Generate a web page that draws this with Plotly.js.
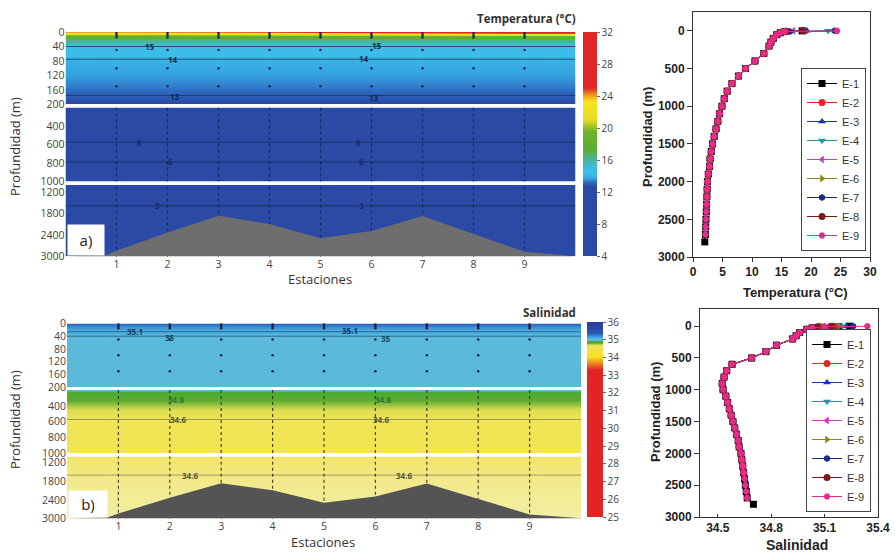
<!DOCTYPE html>
<html><head><meta charset="utf-8">
<script src="https://cdn.plot.ly/plotly-3.0.1.min.js"></script>
<style>html,body{margin:0;padding:0;background:#fff}#chart{width:895px;height:554px}</style>
</head><body><div id="chart"></div>
<script>
// ---------------- DATA ----------------
const stations = [0,1,2,3,4,5,6,7,8,9,10];
const stationTicks = [1,2,3,4,5,6,7,8,9];
const stationTickText = ['1','2','3','4','5','6','7','8','9'];

// section: surface rows (per station) + deeper rows (uniform along section)
const surfaceDepths = [0, 10];
const tempSurface0m  = [24.0,24.0,24.2,24.4,24.6,25.0,25.4,25.8,26.2,26.6,26.6];
const tempSurface10m = [18.5,18.5,18.5,18.8,18.8,19.0,19.0,19.2,19.2,19.5,19.5];
const salSurface0m   = [35.32,35.32,35.33,35.33,35.34,35.34,35.35,35.35,35.35,35.34,35.34];
const salSurface10m  = [35.2,35.2,35.2,35.2,35.2,35.21,35.21,35.21,35.21,35.2,35.2];
const sectionDepths = [20,30,40,60,75,100,125,150,175,200,250,300,400,500,600,700,800,900,1000,1200,1400,1600,1800,2000,2400,2800,3000];
const tempSection = [16.5,15.6,15.0,14.4,14.0,13.8,13.6,13.35,13.0,12.6,12.2,11.8,10.5,8.9,7.7,6.8,5.9,5.3,4.9,4.2,3.5,2.95,2.8,2.6,2.3,2.1,2.0];
const salSection  = [35.13,35.08,35.0,34.985,34.98,34.975,34.97,34.965,34.96,34.955,34.89,34.82,34.74,34.65,34.58,34.56,34.55,34.54,34.54,34.56,34.58,34.6,34.62,34.63,34.65,34.67,34.68];

// contour levels drawn in each panel and their labels
const tempLevelsUpper = [13, 14, 15], tempLevelsMid = [6, 8], tempLevelsDeep = [3];
const salLevelsUpper = [35, 35.1], salLevelsMid = [34.6, 34.8], salLevelsDeep = [34.6];

// bathymetry along the section
const bathyX     = [0, 0.8, 1, 2, 3, 4, 5, 6, 7, 8, 9, 10];
const bathyDepth = [3000, 2960, 2840, 2330, 1860, 2090, 2490, 2290, 1870, 2380, 2870, 2990];
const sampleDepthsUpper = [0, 5, 10, 15, 50, 100, 150];

// vertical profiles per station
const profileNames = ['E-1','E-2','E-3','E-4','E-5','E-6','E-7','E-8','E-9'];
const profileDepths = [0,10,25,50,100,150,200,300,400,500,600,700,800,900,1000,1100,1200,1300,1400,1500,1600,1700,1800,1900,2000,2100,2200,2300,2400,2500,2600,2700,2800];
const profileMaxDepth = [2800,2300,1800,2000,2400,2200,1800,2300,2700];
const profileTempSurface = [[18.5,15.5],[19.0,15.8],[19.3,16.0],[22.9,16.5],[17.0,15.4],[16.0,15.2],[24.0,16.4],[18.6,15.8],[24.4,15.6]];
const profileTempDeep = [14.8,14.2,13.6,13.2,12.9,12.0,10.5,8.9,7.7,6.6,5.8,5.3,4.9,4.5,4.2,3.9,3.6,3.3,3.1,2.9,2.8,2.6,2.45,2.4,2.35,2.3,2.25,2.2,2.15,2.1,2.0];
const profileSalSurface = [[35.24,35.18],[35.15,35.08],[35.22,35.1],[35.2,35.08],[35.12,35.06],[35.18,35.08],[35.26,35.1],[35.14,35.06],[35.34,35.1]];
const profileSalDeep = [35.03,35.0,34.96,34.94,34.92,34.83,34.77,34.69,34.58,34.55,34.535,34.525,34.53,34.545,34.555,34.565,34.575,34.585,34.595,34.605,34.615,34.62,34.63,34.635,34.64,34.645,34.65,34.655,34.66,34.665,34.7];

// ---------------- STYLE ----------------
const profileColors  = ['#000000','#ee2222','#2233aa','#1a9a9a','#c040c0','#8a8a1a','#1e2a88','#7a1a1a','#e82a8a'];
const profileSymbols = ['square','circle','triangle-up','triangle-down','triangle-left','triangle-right','hexagon','circle','hexagon2'];

const tMin = 4, tMax = 32, sMin = 25, sMax = 36;
const tn = v => (v - tMin) / (tMax - tMin);
const sn = v => (v - sMin) / (sMax - sMin);
const tempScale = [
  [0,'#2b4aa6'],[tn(12.7),'#2b4aa6'],[tn(13.2),'#2f6cc4'],[tn(13.7),'#36a6e0'],[tn(14.2),'#3bbbea'],
  [tn(15.0),'#3dbde4'],[tn(15.6),'#46b6b8'],[tn(16.4),'#4fb280'],[tn(17.2),'#5aae32'],[tn(19.5),'#6ab22c'],
  [tn(21.0),'#e4dc22'],[tn(23.3),'#f6e41e'],[tn(24.2),'#f08c22'],[tn(25.0),'#e22626'],[1,'#e22626']
];
const salScale = [
  [0,'#e22424'],[sn(33.3),'#e22424'],[sn(33.7),'#f08c22'],[sn(34.0),'#f6e01e'],[sn(34.6),'#f1e458'],
  [sn(34.7),'#dcdc50'],[sn(34.8),'#5aae30'],[sn(34.92),'#4aab2e'],[sn(34.95),'#5ab8d8'],[sn(35.02),'#5cbbe0'],
  [sn(35.1),'#4cb0e2'],[sn(35.2),'#3a8ed4'],[sn(35.35),'#2c5ab4'],[sn(35.6),'#2a4aa8'],[1,'#283c9a']
];
const deepSalScale = [[0,'#f1e35e'],[0.4,'#f2e77a'],[0.75,'#f3ec98'],[1,'#eef0b0']];

const px = v => v / 895;
const py = v => 1 - v / 554;

// ---------------- BUILD ----------------
const allDepths = surfaceDepths.concat(sectionDepths);
const tempZ = [tempSurface0m, tempSurface10m].concat(tempSection.map(v => stations.map(() => v)));
const salZ  = [salSurface0m, salSurface10m].concat(salSection.map(v => stations.map(() => v)));

const traces = [];
function heat(z, xa, ya, scale, zmin, zmax, cb) {
  const t = {type:'heatmap', x:stations, y:allDepths, z:z, xaxis:xa, yaxis:ya, colorscale:scale,
    zmin:zmin, zmax:zmax, zsmooth:'best', hoverinfo:'skip', showscale:!!cb, showlegend:false};
  if (cb) t.colorbar = cb;
  traces.push(t);
}
function cont(z, xa, ya, levels, lc) {
  const lo = Math.min(...levels), hi = Math.max(...levels);
  const size = levels.length > 1 ? (hi - lo) / (levels.length - 1) : 1;
  traces.push({type:'contour', x:stations, y:allDepths, z:z, xaxis:xa, yaxis:ya, showscale:false,
    hoverinfo:'skip', showlegend:false,
    contours:{coloring:'none', start:lo, end:hi + size * 0.4, size:size, showlabels:false},
    line:{color:lc, width:0.8, smoothing:1}});
}
const cbBase = {xanchor:'left', yanchor:'middle', xpad:0, ypad:0, outlinewidth:0, ticks:'outside',
  ticklen:3, tickcolor:'#666', tickfont:{family:'Open Sans', size:10, color:'#444'}, lenmode:'fraction'};

// temperature section
heat(tempZ,'x','y',tempScale,tMin,tMax, Object.assign({}, cbBase, {x:px(583), y:py(144), len:224/554, thickness:14, tickvals:[4,8,12,16,20,24,28,32]}));
heat(tempZ,'x','y2',tempScale,tMin,tMax,null);
heat(tempZ,'x','y3',tempScale,tMin,tMax,null);
cont(tempZ,'x','y',tempLevelsUpper,'#17365a');
cont(tempZ,'x','y2',tempLevelsMid,'#17305a');
cont(tempZ,'x','y3',tempLevelsDeep,'#17305a');

// salinity section
heat(salZ,'x2','y4',salScale,sMin,sMax, Object.assign({}, cbBase, {x:px(587), y:py(419.5), len:195/554, thickness:16, tickvals:[25,26,27,28,29,30,31,32,33,34,35,36]}));
heat(salZ,'x2','y5',salScale,sMin,sMax,null);
heat(salZ,'x2','y6',deepSalScale,34.5,34.7,null);
cont(salZ,'x2','y4',salLevelsUpper,'#1d5a70');
cont(salZ,'x2','y5',salLevelsMid,'#7a8a40');
cont(salZ,'x2','y6',salLevelsDeep,'#8a8a60');

// station sampling marks
function stationBottom(s) { return bathyDepth[bathyX.indexOf(s)]; }
function stationMarks(xa, ya, color) {
  const xs = [], ys = [];
  stationTicks.forEach(s => sampleDepthsUpper.forEach(d => { xs.push(s); ys.push(d); }));
  traces.push({type:'scatter', mode:'markers', x:xs, y:ys, xaxis:xa, yaxis:ya, hoverinfo:'skip', showlegend:false,
    marker:{size:2.5, color:color}, cliponaxis:true});
}
function stationLines(xa, yas, color) {
  const xs = [], ys = [];
  stationTicks.forEach(s => { xs.push(s, s, null); ys.push(200, stationBottom(s), null); });
  yas.forEach(ya => traces.push({type:'scatter', mode:'lines', x:xs, y:ys, xaxis:xa, yaxis:ya, hoverinfo:'skip',
    showlegend:false, line:{color:color, width:1.2, dash:'dot'}}));
}
stationMarks('x','y','#1a2a50');
stationLines('x',['y2','y3'],'rgba(20,30,70,0.75)');
stationMarks('x2','y4','#223');
stationLines('x2',['y5','y6'],'rgba(40,40,30,0.85)');

// bathymetry
function bathy(xa, ya, color) {
  traces.push({type:'scatter', mode:'lines', x:bathyX.concat([10,0]), y:bathyDepth.concat([3000,3000]),
    xaxis:xa, yaxis:ya, fill:'toself', fillcolor:color, line:{width:0, color:color}, hoverinfo:'skip', showlegend:false});
}
bathy('x','y3','#6e6e6e');
bathy('x2','y6','#545454');

// profiles
function profile(i, surface, deep, xa, ya, legend) {
  const vals = surface[i].concat(deep);
  const xs = [], ys = [];
  profileDepths.forEach((d, k) => { if (d <= profileMaxDepth[i]) { xs.push(vals[k]); ys.push(d); } });
  traces.push({type:'scatter', mode:'lines+markers', name:profileNames[i], x:xs, y:ys, xaxis:xa, yaxis:ya,
    legend:legend, line:{color:profileColors[i], width:1},
    marker:{symbol:profileSymbols[i], size:7, color:profileColors[i], line:{width:0}}});
}
for (let i = 0; i < 9; i++) profile(i, profileTempSurface, profileTempDeep, 'x3', 'y7', 'legend');
for (let i = 0; i < 9; i++) profile(i, profileSalSurface, profileSalDeep, 'x4', 'y8', 'legend2');

// ---------------- LAYOUT ----------------
const secTick = {family:'Open Sans', size:10.5, color:'#444'};
const secY = {tickfont:secTick, showgrid:false, zeroline:false, ticks:'', showline:false, fixedrange:true};
const secX = {range:[0,10], tickvals:stationTicks, ticktext:stationTickText, ticks:'inside', ticklen:2,
  tickcolor:'#777', tickfont:secTick, showgrid:false, zeroline:false, showline:false, fixedrange:true};
const profTick = {family:'Liberation Sans', size:12, color:'#222', weight:'bold'};
const profAx = {showline:true, mirror:true, linecolor:'#333', linewidth:1, ticks:'outside', ticklen:4,
  tickcolor:'#333', tickfont:profTick, showgrid:false, zeroline:false, fixedrange:true};
const legBase = {bgcolor:'#fff', bordercolor:'#444', borderwidth:1, font:{family:'Liberation Sans', size:11, color:'#333'},
  xanchor:'right', yanchor:'bottom', tracegroupgap:0, itemwidth:30};

// contour label placement (station, depth)
const labelFontT = {family:'Open Sans', size:8, color:'#0d2a4a', weight:'bold'};
function lvl(text, xa, ya, x, y, color) {
  return {text:text, xref:xa, yref:ya, x:x, y:y, showarrow:false, xanchor:'center', yanchor:'middle',
    font:Object.assign({}, labelFontT, {color:color})};
}
const fmt = v => String(v);
const contourLabels = [
  lvl(fmt(tempLevelsUpper[2]),'x','y',1.66,40,'#0d2a4a'), lvl(fmt(tempLevelsUpper[2]),'x','y',6.1,38,'#0d2a4a'),
  lvl(fmt(tempLevelsUpper[1]),'x','y',2.1,75,'#0d2a4a'),  lvl(fmt(tempLevelsUpper[1]),'x','y',5.85,73,'#0d2a4a'),
  lvl(fmt(tempLevelsUpper[0]),'x','y',2.15,178,'#0d2a4a'), lvl(fmt(tempLevelsUpper[0]),'x','y',6.05,180,'#0d2a4a'),
  lvl(fmt(tempLevelsMid[1]),'x','y2',1.46,575,'#1a2a60'), lvl(fmt(tempLevelsMid[1]),'x','y2',5.75,575,'#1a2a60'),
  lvl(fmt(tempLevelsMid[0]),'x','y2',2.05,789,'#1a2a60'), lvl(fmt(tempLevelsMid[0]),'x','y2',5.8,789,'#1a2a60'),
  lvl(fmt(tempLevelsDeep[0]),'x','y3',1.8,1560,'#1a2a60'), lvl(fmt(tempLevelsDeep[0]),'x','y3',5.8,1560,'#1a2a60'),
  lvl(fmt(salLevelsUpper[1]),'x2','y4',1.32,24,'#0d3a6a'), lvl(fmt(salLevelsUpper[1]),'x2','y4',5.5,22,'#0d3a6a'),
  lvl(fmt(salLevelsUpper[0]),'x2','y4',2.0,44,'#0d4a5a'),  lvl(fmt(salLevelsUpper[0]),'x2','y4',6.2,46,'#0d4a5a'),
  lvl(fmt(salLevelsMid[1]),'x2','y5',2.13,325,'#2a7a2a'), lvl(fmt(salLevelsMid[1]),'x2','y5',6.15,325,'#2a7a2a'),
  lvl(fmt(salLevelsMid[0]),'x2','y5',2.15,571,'#555533'), lvl(fmt(salLevelsMid[0]),'x2','y5',6.1,571,'#555533'),
  lvl(fmt(salLevelsDeep[0]),'x2','y6',2.4,1600,'#555533'), lvl(fmt(salLevelsDeep[0]),'x2','y6',6.55,1600,'#555533')
];

const layout = {
  width:895, height:554, margin:{l:0,r:0,t:0,b:0}, paper_bgcolor:'#fff', plot_bgcolor:'#fff', showlegend:true,
  xaxis:  Object.assign({}, secX, {domain:[px(65.5),px(575.5)], anchor:'y3'}),
  yaxis:  Object.assign({}, secY, {domain:[py(104.5),py(32)], range:[200,0], anchor:'x', tickvals:[0,40,80,120,160,200]}),
  yaxis2: Object.assign({}, secY, {domain:[py(181.5),py(107.5)], range:[1000,200], anchor:'x', tickvals:[400,600,800,1000]}),
  yaxis3: Object.assign({}, secY, {domain:[py(256.5),py(185)], range:[3000,1000], anchor:'x', tickvals:[1200,1800,2400,3000]}),
  xaxis2: Object.assign({}, secX, {domain:[px(67),px(581)], anchor:'y6'}),
  yaxis4: Object.assign({}, secY, {domain:[py(387),py(323.5)], range:[200,0], anchor:'x2', tickvals:[0,40,80,120,160,200]}),
  yaxis5: Object.assign({}, secY, {domain:[py(453.5),py(390)], range:[1000,200], anchor:'x2', tickvals:[400,600,800,1000]}),
  yaxis6: Object.assign({}, secY, {domain:[py(518.5),py(456.5)], range:[3000,1000], anchor:'x2', tickvals:[1200,1800,2400,3000]}),
  xaxis3: Object.assign({}, profAx, {domain:[px(693),px(870)], range:[0,30], anchor:'y7', tickvals:[0,5,10,15,20,25,30]}),
  yaxis7: Object.assign({}, profAx, {domain:[py(257),py(12)], range:[3000,-250], anchor:'x3', tickvals:[0,500,1000,1500,2000,2500,3000], ticklen:5}),
  xaxis4: Object.assign({}, profAx, {domain:[px(700),px(878)], range:[34.4,35.4], anchor:'y8', tickvals:[34.5,34.8,35.1,35.4], ticktext:['34.5','34.8','35.1','35.4'], ticks:'inside', ticklen:3}),
  yaxis8: Object.assign({}, profAx, {domain:[py(517),py(309)], range:[3000,-270], anchor:'x4', tickvals:[0,500,1000,1500,2000,2500,3000], ticklen:5}),
  legend:  Object.assign({}, legBase, {x:px(866), y:py(251)}),
  legend2: Object.assign({}, legBase, {x:px(871), y:py(512)}),
  annotations: contourLabels.concat([
    {text:'Temperatura (°C)', x:px(578), y:py(18), xref:'paper', yref:'paper', xanchor:'right', yanchor:'middle', showarrow:false,
      font:{family:'Open Sans', size:11.5, color:'#333', weight:'bold'}},
    {text:'Salinidad', x:px(578), y:py(312), xref:'paper', yref:'paper', xanchor:'right', yanchor:'middle', showarrow:false,
      font:{family:'Open Sans', size:11.5, color:'#333', weight:'bold'}},
    {text:'Estaciones', x:px(320), y:py(279), xref:'paper', yref:'paper', xanchor:'center', yanchor:'middle', showarrow:false,
      font:{family:'Open Sans', size:13, color:'#333'}},
    {text:'Estaciones', x:px(323), y:py(542), xref:'paper', yref:'paper', xanchor:'center', yanchor:'middle', showarrow:false,
      font:{family:'Open Sans', size:13, color:'#333'}},
    {text:'Profundidad (m)', x:px(15), y:py(147), xref:'paper', yref:'paper', textangle:-90, xanchor:'center', yanchor:'middle', showarrow:false,
      font:{family:'Open Sans', size:13, color:'#333'}},
    {text:'Profundidad (m)', x:px(15), y:py(420), xref:'paper', yref:'paper', textangle:-90, xanchor:'center', yanchor:'middle', showarrow:false,
      font:{family:'Open Sans', size:13, color:'#333'}},
    {text:'a)', x:px(67), y:py(256), xref:'paper', yref:'paper', xanchor:'left', yanchor:'bottom', showarrow:false,
      bgcolor:'#fff', width:36, height:30, borderpad:0, font:{family:'Open Sans', size:15, color:'#222'}},
    {text:'b)', x:px(68), y:py(518), xref:'paper', yref:'paper', xanchor:'left', yanchor:'bottom', showarrow:false,
      bgcolor:'#fff', width:38, height:26, borderpad:0, font:{family:'Open Sans', size:15, color:'#222'}},
    {text:'Profundidad (m)', x:px(648), y:py(137), xref:'paper', yref:'paper', textangle:-90, xanchor:'center', yanchor:'middle', showarrow:false,
      font:{family:'Liberation Sans', size:13, color:'#222', weight:'bold'}},
    {text:'Temperatura (°C)', x:px(795), y:py(292), xref:'paper', yref:'paper', xanchor:'center', yanchor:'middle', showarrow:false,
      font:{family:'Liberation Sans', size:13, color:'#222', weight:'bold'}},
    {text:'Profundidad (m)', x:px(655), y:py(412), xref:'paper', yref:'paper', textangle:-90, xanchor:'center', yanchor:'middle', showarrow:false,
      font:{family:'Liberation Sans', size:13, color:'#222', weight:'bold'}},
    {text:'Salinidad', x:px(797), y:py(545), xref:'paper', yref:'paper', xanchor:'center', yanchor:'middle', showarrow:false,
      font:{family:'Liberation Sans', size:14, color:'#222', weight:'bold'}}
  ])
};

Plotly.newPlot('chart', traces, layout, {staticPlot:true, displayModeBar:false});
</script>
</body></html>
